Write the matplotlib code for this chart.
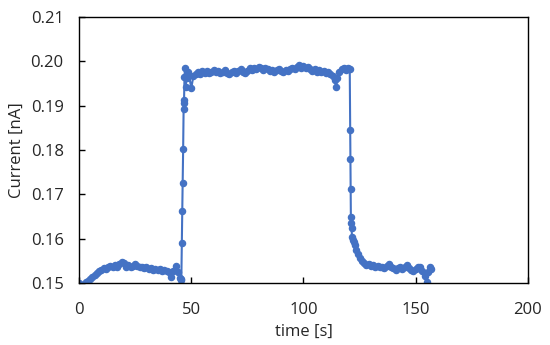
import matplotlib
matplotlib.use("Agg")
import matplotlib.pyplot as plt
from matplotlib.ticker import FormatStrFormatter

# values
# baseline before switching on
t_base = [0, 3, 4, 5, 6, 7, 8, 9, 10, 11, 12, 13, 14, 15, 16, 17, 18, 19, 20,
          21, 22, 23, 24, 25, 26, 27, 28, 29, 30, 31, 32, 33, 34, 35, 36, 37,
          38, 39, 40, 41, 42, 43, 44, 45, 45.5]
i_base = [0.1500, 0.1502, 0.1504, 0.1510, 0.1514, 0.1518, 0.1522, 0.1527,
          0.1530, 0.1533, 0.1531, 0.1536, 0.1538, 0.1535, 0.1540, 0.1537,
          0.1542, 0.1547, 0.1544, 0.1537, 0.1540, 0.1536, 0.1539, 0.1542,
          0.1538, 0.1535, 0.1537, 0.1533, 0.1535, 0.1531, 0.1534, 0.1530,
          0.1532, 0.1529, 0.1531, 0.1528, 0.1530, 0.1526, 0.1524, 0.1514,
          0.1528, 0.1538, 0.1524, 0.1512, 0.1507]

# rising edge
t_rise = [45.6, 45.8, 46.0, 46.2, 46.4, 46.6, 46.7, 46.8, 47.0, 47.2, 47.5,
          48.0, 48.5, 49.0, 50.0]
i_rise = [0.1510, 0.1591, 0.1662, 0.1726, 0.1803, 0.1892, 0.1905, 0.1913,
          0.1965, 0.1985, 0.1943, 0.1962, 0.1975, 0.1970, 0.1939]

# plateau
t_high = [51, 52, 53, 54, 55, 56, 57, 58, 59, 60, 61, 62, 63, 64, 65, 66, 67,
          68, 69, 70, 71, 72, 73, 74, 75, 76, 77, 78, 79, 80, 81, 82, 83, 84,
          85, 86, 87, 88, 89, 90, 91, 92, 93, 94, 95, 96, 97, 98, 99, 100,
          101, 102, 103, 104, 105, 106, 107, 108, 109, 110, 111, 112, 113,
          114, 114.5, 115, 116, 117, 118, 119, 120, 120.6]
i_high = [0.1968, 0.1972, 0.1976, 0.1971, 0.1978, 0.1974, 0.1979, 0.1973,
          0.1977, 0.1981, 0.1975, 0.1978, 0.1973, 0.1976, 0.1980, 0.1974,
          0.1971, 0.1976, 0.1979, 0.1974, 0.1978, 0.1982, 0.1976, 0.1973,
          0.1979, 0.1984, 0.1980, 0.1986, 0.1983, 0.1987, 0.1984, 0.1981,
          0.1985, 0.1982, 0.1978, 0.1981, 0.1977, 0.1980, 0.1983, 0.1979,
          0.1976, 0.1981, 0.1978, 0.1983, 0.1986, 0.1982, 0.1988, 0.1991,
          0.1986, 0.1990, 0.1985, 0.1988, 0.1983, 0.1979, 0.1982, 0.1977,
          0.1980, 0.1975, 0.1978, 0.1974, 0.1976, 0.1972, 0.1968, 0.1958,
          0.1943, 0.1962, 0.1975, 0.1982, 0.1985, 0.1981, 0.1984, 0.1983]

# falling edge and tail
t_fall = [120.8, 120.9, 121.0, 121.1, 121.2, 121.4, 121.6, 121.9, 122.3,
          122.8, 123.4, 124.2, 125, 126, 127, 128, 129, 130, 131, 132, 133,
          134, 135, 136, 137, 138, 139, 140, 141, 142, 143, 144, 145, 146,
          147, 148, 149, 150, 151, 152, 153, 154, 154.8, 155.5, 156.3, 157]
i_fall = [0.1845, 0.1779, 0.1712, 0.1650, 0.1635, 0.1624, 0.1604, 0.1597,
          0.1593, 0.1585, 0.1574, 0.1565, 0.1556, 0.1550, 0.1546, 0.1541,
          0.1543, 0.1539, 0.1541, 0.1537, 0.1539, 0.1535, 0.1537, 0.1533,
          0.1538, 0.1542, 0.1536, 0.1533, 0.1529, 0.1534, 0.1537, 0.1532,
          0.1536, 0.1540, 0.1534, 0.1530, 0.1526, 0.1532, 0.1535, 0.1537,
          0.1527, 0.1515, 0.1503, 0.1524, 0.1537, 0.1532]

time = t_base + t_rise + t_high + t_fall
current = i_base + i_rise + i_high + i_fall

plt.rcParams['font.family'] = ['Open Sans', 'DejaVu Sans']

fig = plt.figure(figsize=(5.5, 3.45), dpi=100)
ax = fig.add_axes([0.1436, 0.1797, 0.8164, 0.771])

ax.plot(time, current, color='#4472C4', lw=1.5, marker='o', ms=4.4,
        mec='#4472C4', mfc='#4472C4')

ax.set_xlim(0, 200)
ax.set_ylim(0.15, 0.21)
ax.set_xticks([0, 50, 100, 150, 200])
ax.set_yticks([0.15, 0.16, 0.17, 0.18, 0.19, 0.20, 0.21])
ax.yaxis.set_major_formatter(FormatStrFormatter('%.2f'))
ax.tick_params(direction='in', length=4, width=1, color='black',
               labelsize=12, labelcolor='#262626')
ax.tick_params(axis='x', pad=14)
ax.tick_params(axis='y', pad=11)
for s in ax.spines.values():
    s.set_color('black')
    s.set_linewidth(1)

ax.set_xlabel('time [s]', fontsize=12, color='#262626', labelpad=4)
ax.set_ylabel('Current [nA]', fontsize=12, color='#262626', labelpad=4)

fig.savefig('out.png', dpi=100)
